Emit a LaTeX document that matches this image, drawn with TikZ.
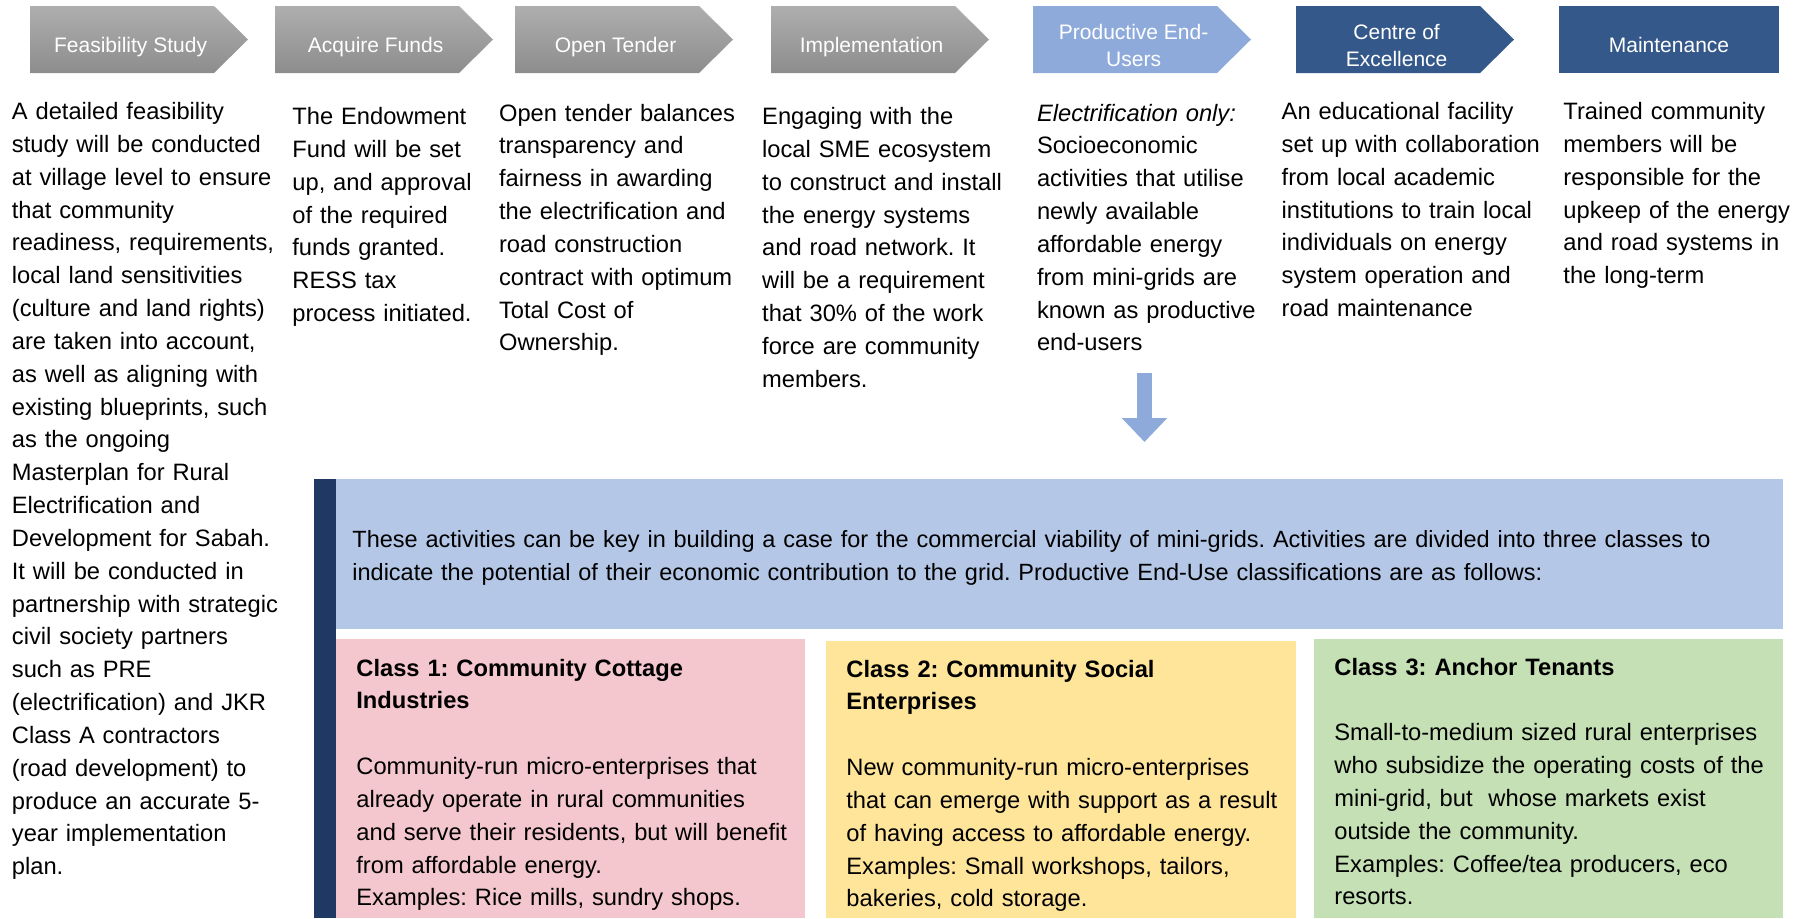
\documentclass[tikz,border=0pt]{standalone}
\usepackage{fontspec}
\setmainfont{Liberation Sans}
\usetikzlibrary{arrows.meta}
\definecolor{hdrtop}{RGB}{174,174,174}
\definecolor{hdrbot}{RGB}{141,141,141}
\definecolor{peublue}{RGB}{142,170,219}
\definecolor{coeblue}{RGB}{53,88,138}
\definecolor{navy}{RGB}{32,56,100}
\definecolor{paleblue}{RGB}{180,199,231}
\definecolor{classpink}{RGB}{244,199,206}
\definecolor{classyellow}{RGB}{255,229,153}
\definecolor{classgreen}{RGB}{197,224,180}
\frenchspacing

\begin{document}
\begin{tikzpicture}[x=0.5pt,y=-0.5pt,
  chevgray/.style={top color=hdrtop,bottom color=hdrbot},
  hdr/.style={text=white,font=\fontsize{10.5}{13.3}\selectfont,align=center,inner sep=0pt},
  coltext/.style={anchor=base west,inner sep=0pt,text width=300pt,align=left,
    font=\fontsize{11.85}{16.42}\selectfont},
  boxtext/.style={coltext,font=\fontsize{11.75}{16.7}\selectfont,text width=720pt}]
\useasboundingbox (0,0) rectangle (1810,918);

% step chevrons
\foreach \x/\nm/\lbl in {30/feas/Feasibility Study, 275/funds/Acquire Funds,
    515/tender/Open Tender, 771/impl/Implementation}{
  \shade[chevgray] (\x,6) -- ++(184,0) -- ++(34,33.5) -- ++(-34,33.5) -- ++(-184,0) -- cycle;
  \node[hdr,anchor=base] (\nm) at (\x+100.6,52) {\lbl};
}
\fill[peublue] (1033,6) -- ++(184,0) -- ++(34,33.5) -- ++(-34,33.5) -- ++(-184,0) -- cycle;
\node[hdr] (peu) at (1133.6,45.5) {Productive End-\\Users};
\fill[coeblue] (1296,6) -- ++(184,0) -- ++(34,33.5) -- ++(-34,33.5) -- ++(-184,0) -- cycle;
\node[hdr] (coe) at (1396.6,45.5) {Centre of\\Excellence};
\fill[coeblue] (1559,6) rectangle (1779,73);
\node[hdr,anchor=base] (maint) at (1669,52) {Maintenance};

% descriptions
\node[coltext] (feastxt) at (11.5,119.5) {A detailed feasibility\\study will be conducted\\at village level to ensure\\that community\\readiness, requirements,\\local land sensitivities\\(culture and land rights)\\are taken into account,\\as well as aligning with\\existing blueprints, such\\as the ongoing\\Masterplan for Rural\\Electrification and\\Development for Sabah.\\It will be conducted in\\partnership with strategic\\civil society partners\\such as PRE\\(electrification) and JKR\\Class A contractors\\(road development) to\\produce an accurate 5-\\year implementation\\plan.};
\node[coltext] (fundstxt) at (292,124.5) {The Endowment\\Fund will be set\\up, and approval\\of the required\\funds granted.\\RESS tax\\process initiated.};
\node[coltext] (tendertxt) at (498.7,121) {Open tender balances\\transparency and\\fairness in awarding\\the electrification and\\road construction\\contract with optimum\\Total Cost of\\Ownership.};
\node[coltext] (impltxt) at (761.8,124.5) {Engaging with the\\local SME ecosystem\\to construct and install\\the energy systems\\and road network. It\\will be a requirement\\that 30\% of the work\\force are community\\members.};
\node[coltext] (peutxt) at (1036.6,121) {\textit{Electrification only:}\\Socioeconomic\\activities that utilise\\newly available\\affordable energy\\from mini-grids are\\known as productive\\end-users};
\node[coltext] (coetxt) at (1281.3,119.5) {An educational facility\\set up with collaboration\\from local academic\\institutions to train local\\individuals on energy\\system operation and\\road maintenance};
\node[coltext] (mainttxt) at (1563,119.5) {Trained community\\members will be\\responsible for the\\upkeep of the energy\\and road systems in\\the long-term};

% arrow down to classes
\coordinate (arrtop) at (1144.5,373);
\coordinate (arrtip) at (1144.5,442);
\draw[peublue,line width=7.5pt,-{Triangle[width=22pt,length=12pt]}] (arrtop) -- (arrtip);

% productive end-use panel
\fill[paleblue] (336,479) rectangle (1783,629);
\fill[navy] (314,479) rectangle (336,918);
\node[boxtext] (intro) at (352,547.5) {These activities can be key in building a case for the commercial viability of mini-grids. Activities are divided into three classes to\\indicate the potential of their economic contribution to the grid. Productive End-Use classifications are as follows:};

\fill[classpink] (336,639) rectangle (805,918);
\fill[classyellow] (826,641) rectangle (1296,918);
\fill[classgreen] (1314,639) rectangle (1783,918);
\node[coltext] (class1) at (356,676) {\textbf{Class 1: Community Cottage}\\\textbf{Industries}\\[16.42pt]Community-run micro-enterprises that\\already operate in rural communities\\and serve their residents, but will benefit\\from affordable energy.\\Examples: Rice mills, sundry shops.};
\node[coltext] (class2) at (846,677) {\textbf{Class 2: Community Social}\\\textbf{Enterprises}\\[16.42pt]New community-run micro-enterprises\\that can emerge with support as a result\\of having access to affordable energy.\\Examples: Small workshops, tailors,\\bakeries, cold storage.};
\node[coltext] (class3) at (1334,675) {\textbf{Class 3: Anchor Tenants}\\[16.42pt]Small-to-medium sized rural enterprises\\who subsidize the operating costs of the\\mini-grid, but~ whose markets exist\\outside the community.\\Examples: Coffee/tea producers, eco\\resorts.};
\end{tikzpicture}
\end{document}
